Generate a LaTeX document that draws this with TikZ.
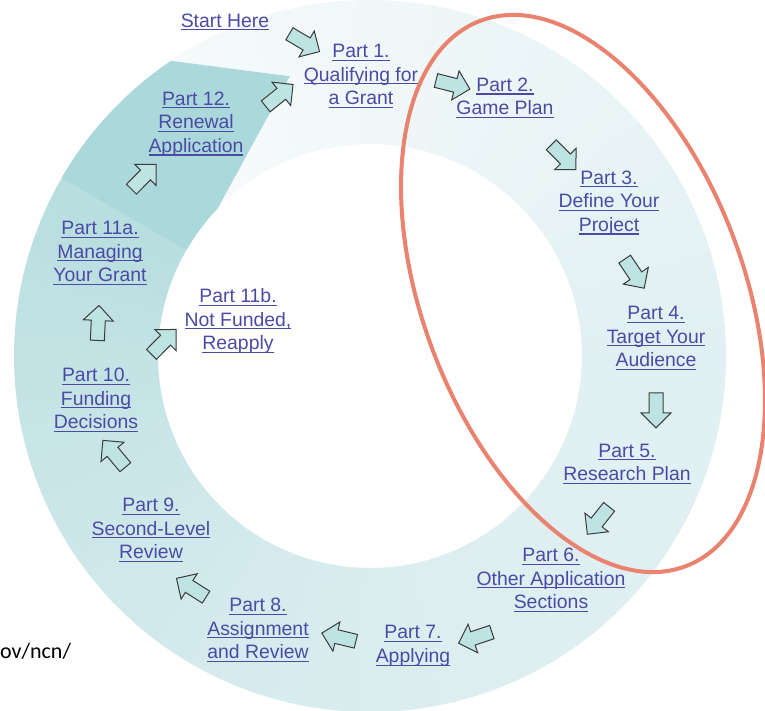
\documentclass[tikz,border=0pt]{standalone}
\usepackage{fontspec}
\setmainfont{Liberation Sans}
\newfontfamily\urlfont{Carlito}
\usepackage{tikz}
\usetikzlibrary{shapes.arrows,calc}
\definecolor{linkblue}{HTML}{4B4BA6}
\definecolor{ringlight}{HTML}{F8FBFC}
\definecolor{ringmid}{HTML}{E1F0F2}
\definecolor{ringdark}{HTML}{B4DCDE}
\definecolor{ringend}{HTML}{ABD8DA}
\definecolor{arrowfill}{HTML}{BEE3E3}
\definecolor{arrowline}{HTML}{3C3C3C}
\definecolor{markred}{HTML}{E9836F}
\newsavebox{\lnkbox}
\newcommand{\lnk}[1]{\sbox\lnkbox{#1}\rlap{\rule[-3.2pt]{\wd\lnkbox}{1.1pt}}\usebox\lnkbox}

\begin{document}
\begin{tikzpicture}[x=1pt, y=-1pt,
    part/.style={align=center, text=linkblue, inner sep=0pt, font=\fontsize{19.4}{23.6}\selectfont},
    stepicon/.style={single arrow, draw=arrowline, fill=arrowfill, line width=1pt, minimum height=35pt, text height=6.5pt, text depth=6.5pt, single arrow head extend=8pt, inner sep=0pt, sloped, allow upside down}]
    % Page
    \fill[white] (0,0) rectangle (765,711);
    \useasboundingbox (0,0) rectangle (765,711);

    % Ring, light at the start, darker all the way round
    \begin{scope}[shift={(370,356)}, yscale=-1]
        \foreach \i in {0,...,119}{
            \pgfmathsetmacro\anga{140-3*\i}
            \pgfmathsetmacro\angb{\anga-3.4}
            \ifnum\i<47
                \pgfmathsetmacro\mix{100*\i/47}
                \colorlet{seg}{ringmid!\mix!ringlight}
            \else
                \pgfmathsetmacro\mix{100*((\i-47)/72)^2}
                \colorlet{seg}{ringdark!\mix!ringmid}
            \fi
            \fill[seg] (\anga:356) arc[start angle=\anga, end angle=\angb, radius=356]
                -- (\angb:212) arc[start angle=\angb, end angle=\anga, radius=212] -- cycle;
        }
        % Cut end of the ring
        \fill[ringend] (124:356) -- (106:291) -- (136:212) arc[start angle=136, end angle=150, radius=212]
            -- (150:356) arc[start angle=150, end angle=124, radius=356] -- cycle;
    \end{scope}

    % Steps
    \node[part] (start) at (225,22) {\lnk{Start Here}};
    \node[part] (p1) at (361,76) {\lnk{Part 1.}\\\lnk{Qualifying for}\\\lnk{a Grant}};
    \node[part] (p2) at (505,98) {\lnk{Part 2.}\\\lnk{Game Plan}};
    \node[part] (p3) at (609,203) {\lnk{Part 3.}\\\lnk{Define Your}\\\lnk{Project}};
    \node[part] (p4) at (656,338) {\lnk{Part 4.}\\\lnk{Target Your}\\\lnk{Audience}};
    \node[part] (p5) at (627,464) {\lnk{Part 5.}\\\lnk{Research Plan}};
    \node[part] (p6) at (551,580) {\lnk{Part 6.}\\\lnk{Other Application}\\\lnk{Sections}};
    \node[part] (p7) at (413,646) {\lnk{Part 7.}\\\lnk{Applying}};
    \node[part] (p8) at (258,630) {\lnk{Part 8.}\\\lnk{Assignment}\\\lnk{and Review}};
    \node[part] (p9) at (151,530) {\lnk{Part 9.}\\\lnk{Second-Level}\\\lnk{Review}};
    \node[part] (p10) at (96,400) {\lnk{Part 10.}\\\lnk{Funding}\\\lnk{Decisions}};
    \node[part] (p11a) at (100,253) {\lnk{Part 11a.}\\\lnk{Managing}\\\lnk{Your Grant}};
    \node[part] (p11b) at (238,321) {\lnk{Part 11b.}\\\lnk{Not Funded,}\\\lnk{Reapply}};
    \node[part] (p12) at (196,124) {\lnk{Part 12.}\\\lnk{Renewal}\\\lnk{Application}};

    % Block arrows between steps
    \path (start.east) -- node[stepicon, pos=0.35] (a0) {} (p1.center);
    \path (p1.east) -- node[stepicon, pos=0.36] (a1) {} (p2.center);
    \path (p2.center) -- node[stepicon, pos=0.54] (a2) {} (p3.center);
    \path (p3.south) -- node[stepicon] (a3) {} (p4.north);
    \path (p4.south) -- node[stepicon] (a4) {} (p4.south |- p5.north);
    \path (p5.south) -- node[stepicon, pos=0.35] (a5) {} (p6.center);
    \path (p6.south) -- node[stepicon, pos=0.72] (a6) {} (p7.east);
    \path (p7.west) -- node[stepicon] (a7) {} (p8.east);
    \path (p8.north west) -- node[stepicon, pos=0.23] (a8) {} (p9.south);
    \path (p9.north) -- node[stepicon, pos=0.63] (a9) {} (p10.south);
    \path (p10.north) -- node[stepicon] (a10) {} (p11a.south);
    \path (p10.north east) -- node[stepicon] (a11) {} (p11b.west);
    \path (p11a.north) -- node[stepicon, pos=0.43] (a12) {} (p12.center);
    \path (p12.east) -- node[stepicon, pos=0.55] (a13) {} (p1.west);

    % Source, cut at the page edge
    \node[anchor=west, inner sep=0pt, font=\urlfont\fontsize{22}{26}\selectfont] (src) at (0,651) {ov/ncn/};

    % Highlight round parts 2 to 5
    \draw[markred, line width=4pt, rotate around={-69.4:(583,293.5)}] (583,293.5) ellipse [x radius=291.4, y radius=160.6];
\end{tikzpicture}
\end{document}
